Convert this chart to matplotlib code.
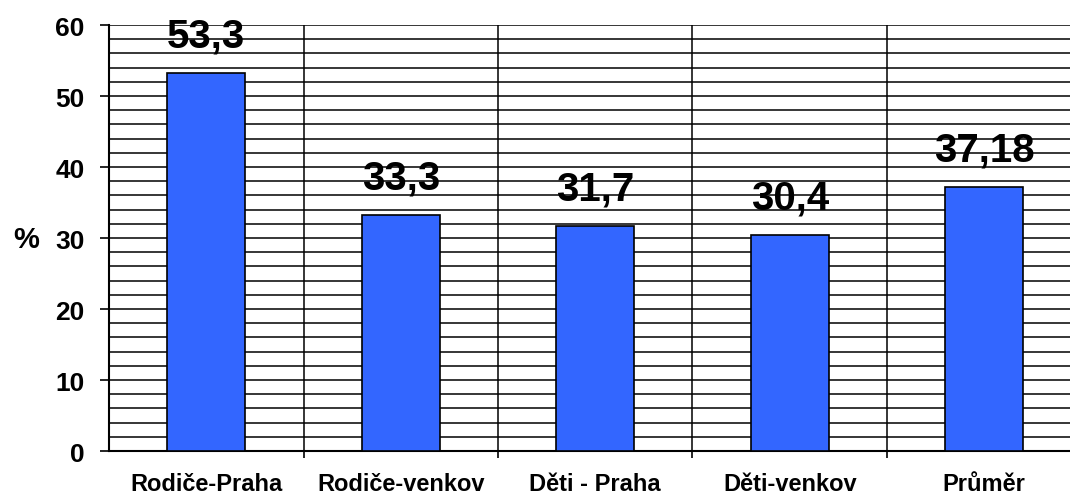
import matplotlib.pyplot as plt
import numpy as np
from matplotlib.ticker import MultipleLocator, FixedLocator

# data
categories = ["Rodiče-Praha", "Rodiče-venkov", "Děti - Praha", "Děti-venkov", "Průměr"]
values = [53.3, 33.3, 31.7, 30.4, 37.18]
value_labels = ["53,3", "33,3", "31,7", "30,4", "37,18"]

plt.rcParams["font.family"] = ["Liberation Sans", "DejaVu Sans"]
plt.rcParams["font.weight"] = "bold"

fig = plt.figure(figsize=(10.7, 5.02), dpi=100)
ax = fig.add_axes([0.1019, 0.0996, 0.9088, 0.8484])

x = np.arange(len(categories))
ax.bar(x, values, width=0.4, color="#3366FF", edgecolor="black", linewidth=1.2, zorder=3)

for xi, v, lab in zip(x, values, value_labels):
    ax.text(xi, v + 5.3, lab, ha="center", va="center", fontsize=29,
            fontweight="bold", zorder=4)

ax.set_xlim(-0.5, len(categories) - 0.5)
ax.set_ylim(0, 60)

# horizontal grid every 2 units, vertical lines between categories
ax.yaxis.set_major_locator(MultipleLocator(10))
ax.yaxis.set_minor_locator(MultipleLocator(2))
ax.grid(True, which="both", axis="y", color="black", linewidth=1.1, zorder=1)
for b in np.arange(0.5, len(categories) - 0.5, 1.0):
    ax.axvline(b, color="black", linewidth=1.1, zorder=1)

ax.set_xticks(x)
ax.set_xticklabels(categories, fontsize=17, fontweight="bold")
ax.xaxis.set_minor_locator(FixedLocator(np.arange(0.5, len(categories) - 0.5, 1.0)))
ax.tick_params(axis="x", which="major", length=0, pad=15)
ax.tick_params(axis="x", which="minor", length=5, width=1.2, direction="out")
ax.tick_params(axis="y", which="major", length=6.5, width=1.2, direction="out",
               labelsize=19, pad=11)
ax.tick_params(axis="y", which="minor", length=0)
for lab in ax.get_yticklabels():
    lab.set_fontweight("bold")

ax.set_ylabel("%", rotation=0, fontsize=21, fontweight="bold", va="center", ha="center")
ax.yaxis.set_label_coords(-0.0853, 0.497)

for side in ("top", "right"):
    ax.spines[side].set_visible(False)
ax.spines["left"].set_linewidth(1.5)
ax.spines["bottom"].set_linewidth(1.5)

fig.savefig("out.png", dpi=100)
